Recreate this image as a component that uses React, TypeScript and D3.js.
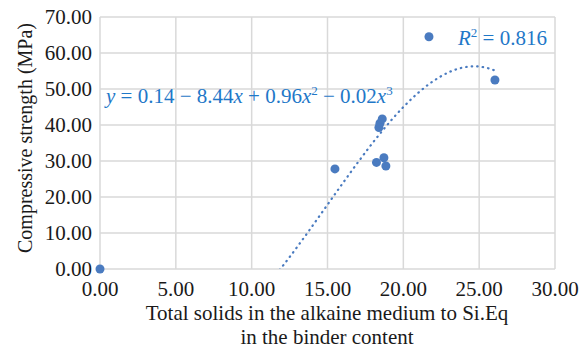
import React, { useEffect, useRef } from 'react';
import * as d3 from 'd3';

// measured points
const solids = [0, 15.49, 18.23, 18.39, 18.46, 18.61, 18.72, 18.85, 21.69, 26.04];
const strength = [0, 27.8, 29.6, 39.3, 40.5, 41.7, 30.9, 28.6, 64.5, 52.5];
const xTicks = [0, 5, 10, 15, 20, 25, 30];
const yTicks = [0, 10, 20, 30, 40, 50, 60, 70];

// least squares cubic, like the spreadsheet trendline
const fitCubic = (xs: number[], ys: number[]) => {
  const n = 4;
  const A: number[][] = [];
  for (let i = 0; i < n; i++) A.push([0, 0, 0, 0, 0]);
  xs.forEach((x, k) => {
    for (let i = 0; i < n; i++) {
      for (let j = 0; j < n; j++) A[i][j] += Math.pow(x, i + j);
      A[i][n] += ys[k] * Math.pow(x, i);
    }
  });
  for (let c = 0; c < n; c++) {
    let p = c;
    for (let r = c + 1; r < n; r++) if (Math.abs(A[r][c]) > Math.abs(A[p][c])) p = r;
    const tmp = A[c]; A[c] = A[p]; A[p] = tmp;
    for (let r = 0; r < n; r++) {
      if (r === c) continue;
      const f = A[r][c] / A[c][c];
      for (let k = c; k <= n; k++) A[r][k] -= f * A[c][k];
    }
  }
  return A.map((row, i) => row[n] / row[i]);
};

const FONT = '"Liberation Serif", "Times New Roman", "DejaVu Serif", serif';

const App = () => {
  const ref = useRef<SVGSVGElement>(null);

  useEffect(() => {
    const width = 587;
    const height = 353;
    const left = 100, right = 555, top = 17, bottom = 269;
    const blue = '#4a7bc0';
    const textBlue = '#1f78c8';

    const svg = d3.select(ref.current);
    svg.selectAll('*').remove();
    svg.attr('width', width).attr('height', height);

    const x = d3.scaleLinear().domain([0, 30]).range([left, right]);
    const y = d3.scaleLinear().domain([0, 70]).range([bottom, top]);

    svg.append('rect').attr('width', width).attr('height', height).attr('fill', 'white');

    const grid = svg.append('g').attr('stroke', '#d9d9d9').attr('stroke-width', 1.5);
    grid.selectAll('line.h').data(yTicks).join('line')
      .attr('x1', left).attr('x2', right)
      .attr('y1', d => y(d)).attr('y2', d => y(d));
    grid.selectAll('line.v').data(xTicks).join('line')
      .attr('y1', top).attr('y2', bottom)
      .attr('x1', d => x(d)).attr('x2', d => x(d));

    const label = (g: any, size = 21) => g.attr('font-family', FONT).attr('font-size', size).attr('fill', '#1a1a1a');

    svg.append('g').call(label).selectAll('text').data(yTicks).join('text')
      .attr('x', left - 8).attr('y', d => y(d)).attr('dy', '0.35em')
      .attr('text-anchor', 'end')
      .text(d => d.toFixed(2));
    svg.append('g').call(label).selectAll('text').data(xTicks).join('text')
      .attr('x', d => x(d)).attr('y', bottom + 27)
      .attr('text-anchor', 'middle')
      .text(d => d.toFixed(2));

    const titles = svg.append('g').call(label).attr('text-anchor', 'middle');
    titles.append('text').attr('x', 327).attr('y', 320)
      .text('Total solids in the alkaine medium to Si.Eq');
    titles.append('text').attr('x', 327).attr('y', 344)
      .text('in the binder content');
    svg.append('text').call(label, 20).attr('text-anchor', 'middle')
      .attr('transform', `translate(32,138) rotate(-90)`)
      .text('Compressive strength (MPa)');

    // trendline
    const c = fitCubic(solids, strength);
    const f = (v: number) => c[0] + c[1] * v + c[2] * v * v + c[3] * v * v * v;
    const xs = d3.range(0, 26.05, 0.05);
    const pts: [number, number][] = xs.map(v => [x(v), y(f(v))]);
    svg.append('clipPath').attr('id', 'plot-clip').append('rect')
      .attr('x', left).attr('y', top).attr('width', right - left).attr('height', bottom - top);
    svg.append('path')
      .attr('clip-path', 'url(#plot-clip)')
      .attr('fill', 'none').attr('stroke', blue).attr('stroke-width', 2.2)
      .attr('stroke-linecap', 'round').attr('stroke-dasharray', '0.5 5')
      .attr('d', d3.line()(pts));

    svg.append('g').attr('fill', blue).selectAll('circle')
      .data(solids.map((s, i) => [s, strength[i]]))
      .join('circle')
      .attr('cx', d => x(d[0])).attr('cy', d => y(d[1])).attr('r', 4.5);

    const eq = svg.append('text').attr('x', 106).attr('y', 103)
      .attr('font-family', FONT).attr('font-size', 21).attr('fill', textBlue);
    eq.append('tspan').attr('font-style', 'italic').text('y');
    eq.append('tspan').text(' = 0.14 − 8.44');
    eq.append('tspan').attr('font-style', 'italic').text('x');
    eq.append('tspan').text(' + 0.96');
    eq.append('tspan').attr('font-style', 'italic').text('x');
    eq.append('tspan').attr('font-size', 13).attr('dy', -8).text('2');
    eq.append('tspan').attr('dy', 8).text(' − 0.02');
    eq.append('tspan').attr('font-style', 'italic').text('x');
    eq.append('tspan').attr('font-size', 13).attr('dy', -8).text('3');

    const r2 = svg.append('text').attr('x', 458).attr('y', 45)
      .attr('font-family', FONT).attr('font-size', 21).attr('fill', textBlue);
    r2.append('tspan').attr('font-style', 'italic').text('R');
    r2.append('tspan').attr('font-size', 13).attr('dy', -8).text('2');
    r2.append('tspan').attr('dy', 8).text(' = 0.816');
  }, []);

  return <svg ref={ref} style={{ display: 'block', margin: '-8px' }}></svg>;
};

export default App;
